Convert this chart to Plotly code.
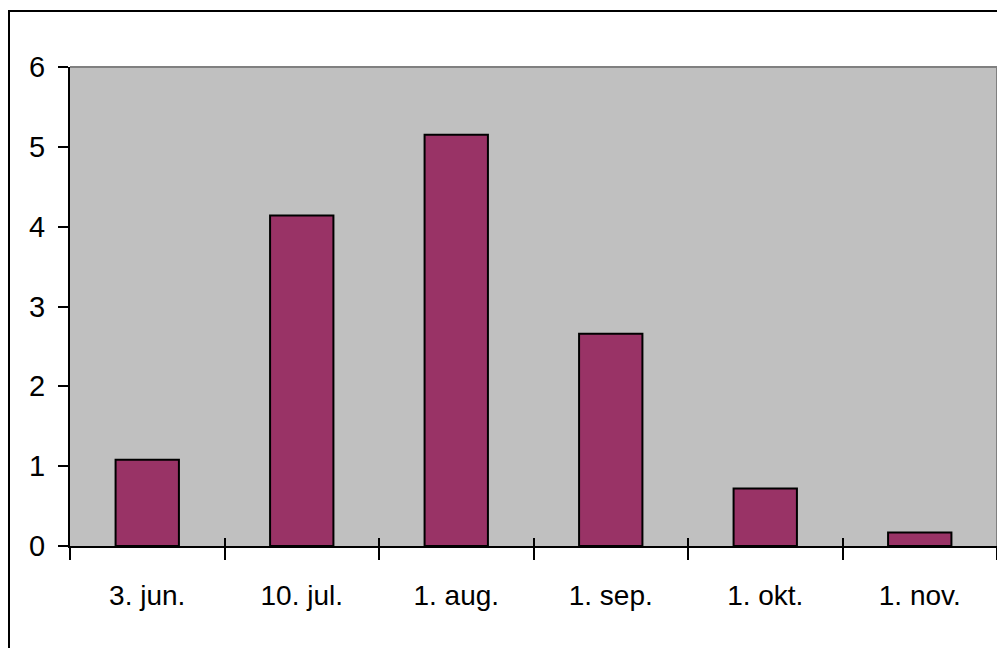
import plotly.graph_objects as go

categories = ["3. jun.", "10. jul.", "1. aug.", "1. sep.", "1. okt.", "1. nov."]
values = [1.08, 4.14, 5.15, 2.66, 0.72, 0.17]
y_ticks = [0, 1, 2, 3, 4, 5, 6]

FONT = "Liberation Sans, Arial, sans-serif"

fig = go.Figure()
fig.add_trace(
    go.Bar(
        x=categories,
        y=values,
        marker=dict(color="#993366", line=dict(color="black", width=2)),
        width=0.41,
        hoverinfo="x+y",
    )
)
# invisible twin trace only to drive the inward half of the crossing x ticks
fig.add_trace(
    go.Bar(
        x=categories,
        y=values,
        xaxis="x2",
        opacity=0,
        width=0.41,
        hoverinfo="skip",
        showlegend=False,
    )
)

W, H = 1005, 648
# page has an 8px body margin; compensate so plot area lands at page 70..997 x 67..546
OFF = 8
L, R, T, B = 70 - OFF, W - (997 - OFF), 67 - OFF, H - (546 - OFF)
pw, ph = W - L - R, H - T - B

def px(x):
    return (x - L) / pw

def py(y):
    return 1 - (y - T) / ph

fig.update_layout(
    width=W,
    height=H,
    margin=dict(l=L, r=R, t=T, b=B, pad=0),
    paper_bgcolor="white",
    plot_bgcolor="#C0C0C0",
    showlegend=False,
    font=dict(family=FONT, color="black"),
    shapes=[
        dict(type="rect", xref="paper", yref="paper", x0=px(1), x1=px(1040),
             y0=py(720), y1=py(3), line=dict(color="black", width=2), layer="below"),
        dict(type="line", xref="paper", yref="paper", x0=0, x1=1, y0=1, y1=1,
             line=dict(color="#808080", width=2)),
        dict(type="line", xref="paper", yref="paper", x0=1, x1=1, y0=0, y1=1,
             line=dict(color="#808080", width=2)),
    ],
    xaxis2=dict(
        type="category",
        overlaying="x",
        side="bottom",
        tickson="boundaries",
        ticks="inside",
        ticklen=8,
        tickwidth=2,
        tickcolor="black",
        showticklabels=False,
        showline=False,
        showgrid=False,
        fixedrange=True,
    ),
    xaxis=dict(
        type="category",
        tickson="boundaries",
        ticks="outside",
        ticklen=12,
        tickwidth=2,
        tickcolor="black",
        showline=True,
        linecolor="black",
        linewidth=2,
        showgrid=False,
        tickfont=dict(size=28, family=FONT, color="black"),
        ticklabelstandoff=23,
        fixedrange=True,
    ),
    yaxis=dict(
        range=[0, 6],
        tickvals=y_ticks,
        ticks="outside",
        ticklen=10,
        tickwidth=2,
        tickcolor="black",
        showline=True,
        linecolor="black",
        linewidth=2,
        showgrid=False,
        zeroline=False,
        tickfont=dict(size=29, family=FONT, color="black"),
        ticklabelstandoff=7,
        fixedrange=True,
    ),
)

fig.write_html("out.html")
